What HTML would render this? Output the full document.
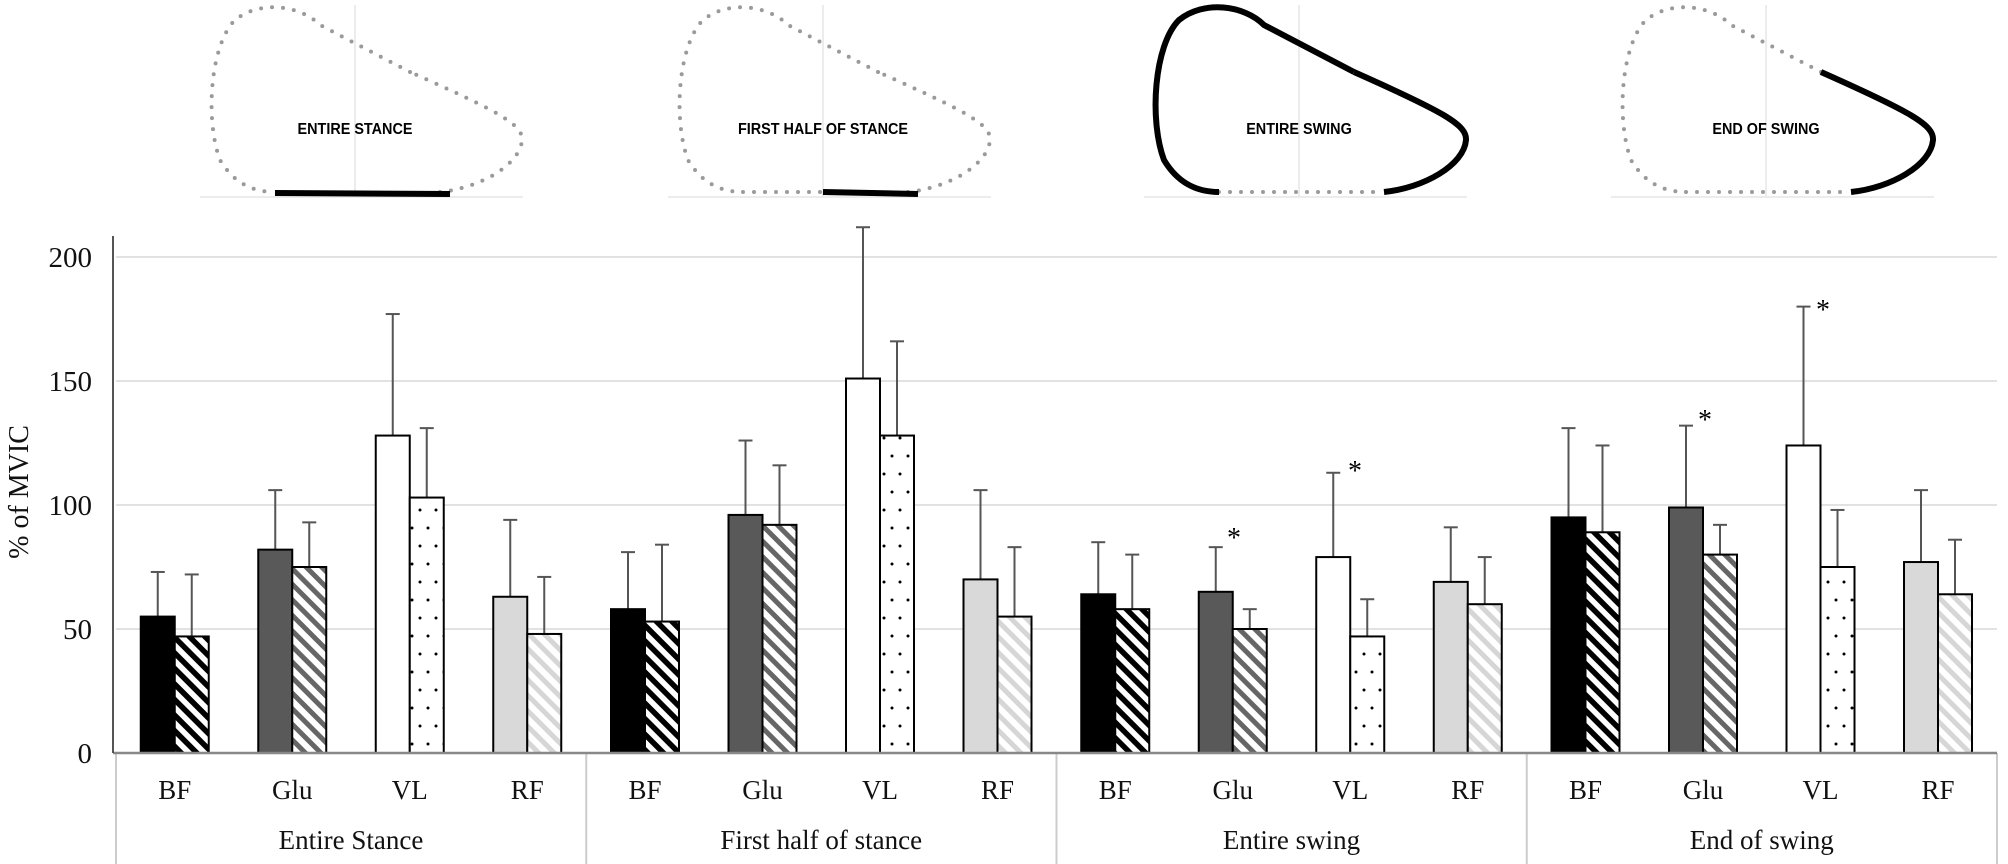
<!DOCTYPE html>
<html><head><meta charset="utf-8"><style>html,body{margin:0;padding:0;background:#fff}svg{display:block}</style></head>
<body>
<svg id="s" width="2008" height="864" xmlns="http://www.w3.org/2000/svg" font-family="Liberation Serif, serif">
<defs>
<pattern id="pBF" width="11" height="11" patternUnits="userSpaceOnUse" patternTransform="rotate(-45)"><rect width="11" height="11" fill="#fff"/><rect width="5.5" height="11" fill="#000"/></pattern>
<pattern id="pGlu" width="11" height="11" patternUnits="userSpaceOnUse" patternTransform="rotate(-45)"><rect width="11" height="11" fill="#fff"/><rect width="5" height="11" fill="#666"/></pattern>
<pattern id="pRF" width="11" height="11" patternUnits="userSpaceOnUse" patternTransform="rotate(-45)"><rect width="11" height="11" fill="#fff"/><rect width="5" height="11" fill="#d6d6d6"/></pattern>
<pattern id="pVL" width="16" height="36" patternUnits="userSpaceOnUse"><rect width="16" height="36" fill="#fff"/><circle cx="4" cy="6" r="1.5" fill="#000"/><circle cx="12" cy="24" r="1.5" fill="#000"/></pattern>
</defs>
<g id="g"></g>
</svg>
<script>
var g=document.getElementById('g'),h='';
function Y(v){return 753-v*2.48;}
[50,100,150,200].forEach(function(v){h+='<line x1="116" x2="1997" y1="'+Y(v)+'" y2="'+Y(v)+'" stroke="#e2e2e2" stroke-width="2"/>';});
[0,50,100,150,200].forEach(function(v){h+='<text x="92" y="'+(Y(v)+10)+'" font-size="29" text-anchor="end" fill="#111">'+v+'</text>';});
h+='<text transform="translate(28,492) rotate(-90)" font-size="28" text-anchor="middle" fill="#111">% of MVIC</text>';
var data=[
[[55,73,47,72],[82,106,75,93],[128,177,103,131],[63,94,48,71]],
[[58,81,53,84],[96,126,92,116],[151,212,128,166],[70,106,55,83]],
[[64,85,58,80],[65,83,50,58],[79,113,47,62],[69,91,60,79]],
[[95,131,89,124],[99,132,80,92],[124,180,75,98],[77,106,64,86]]];
var fills=[['#000','url(#pBF)'],['#595959','url(#pGlu)'],['#fff','url(#pVL)'],['#d9d9d9','url(#pRF)']];
var cats=['BF','Glu','VL','RF'],groups=['Entire Stance','First half of stance','Entire swing','End of swing'];
for(var gi=0;gi<4;gi++){var gx=116+gi*470.25;
 h+='<line x1="'+gx+'" x2="'+gx+'" y1="753" y2="864" stroke="#ccc" stroke-width="2"/>';
 h+='<text x="'+(gx+235)+'" y="849" font-size="27" text-anchor="middle" fill="#111">'+groups[gi]+'</text>';
 for(var k=0;k<4;k++){var c=gx+58.75+k*117.5,d=data[gi][k];
  h+='<text x="'+c+'" y="799" font-size="27" text-anchor="middle" fill="#111">'+cats[k]+'</text>';
  for(var b=0;b<2;b++){var x=c-34+b*34,v=d[b*2],e=d[b*2+1],cx=x+17;
   h+='<line x1="'+cx+'" x2="'+cx+'" y1="'+Y(v)+'" y2="'+Y(e)+'" stroke="#555" stroke-width="2"/>';
   h+='<line x1="'+(cx-7)+'" x2="'+(cx+7)+'" y1="'+Y(e)+'" y2="'+Y(e)+'" stroke="#555" stroke-width="2"/>';
   h+='<rect x="'+x+'" y="'+Y(v)+'" width="34" height="'+(753-Y(v))+'" fill="'+fills[k][b]+'" stroke="#000" stroke-width="2"/>';
  }}}
h+='<line x1="1997" x2="1997" y1="753" y2="864" stroke="#ccc" stroke-width="2"/>';
h+='<line x1="113" x2="1997" y1="753" y2="753" stroke="#888" stroke-width="2.5"/>';
h+='<line x1="113" x2="113" y1="236" y2="753" stroke="#555" stroke-width="2"/>';
[[1234,533],[1355,466],[1705,415],[1823,305]].forEach(function(p){h+='<text x="'+p[0]+'" y="'+(p[1]+14)+'" font-size="28" text-anchor="middle">*</text>';});
var A='M75 192 L240 192',B1='M240 192 C280 188 320 165 322 140 C323 125 300 112 210 72',B2='M210 72 L120 25 C100 5 60 0 35 20 C10 45 5 120 20 160 C35 185 55 192 75 192';
var dot='fill="none" stroke="#9a9a9a" stroke-width="4" stroke-dasharray="0 11" stroke-linecap="round"',blk='fill="none" stroke="#000" stroke-width="6"';
var offs=[200,668,1144,1611],labels=['ENTIRE STANCE','FIRST HALF OF STANCE','ENTIRE SWING','END OF SWING'];
for(var i=0;i<4;i++){var o=offs[i];h+='<g transform="translate('+o+',0)">';
 h+='<line x1="0" x2="323" y1="197" y2="197" stroke="#e6e6e6" stroke-width="1.5"/><line x1="155" x2="155" y1="5" y2="197" stroke="#e6e6e6" stroke-width="1.5"/>';
 if(i==0){h+='<path d="'+B1+'" '+dot+'/><path d="'+B2+'" '+dot+'/><path d="M75 193 L250 194" '+blk+'/>';}
 if(i==1){h+='<path d="'+B1+'" '+dot+'/><path d="'+B2+'" '+dot+'/><path d="M75 192 L155 192" '+dot+'/><path d="M155 192 L250 194" '+blk+'/>';}
 if(i==2){h+='<path d="'+A+'" '+dot+'/><path d="'+B1+'" '+blk+'/><path d="'+B2+'" '+blk+'/>';}
 if(i==3){h+='<path d="'+A+'" '+dot+'/><path d="'+B2+'" '+dot+'/><path d="'+B1+'" '+blk+'/>';}
 h+='<text x="155" y="134" font-family="Liberation Sans, sans-serif" font-weight="bold" font-size="16" text-anchor="middle" transform="translate(155,0) scale(0.9,1) translate(-155,0)">'+labels[i]+'</text></g>';}
g.innerHTML=h;
</script>
</body></html>
